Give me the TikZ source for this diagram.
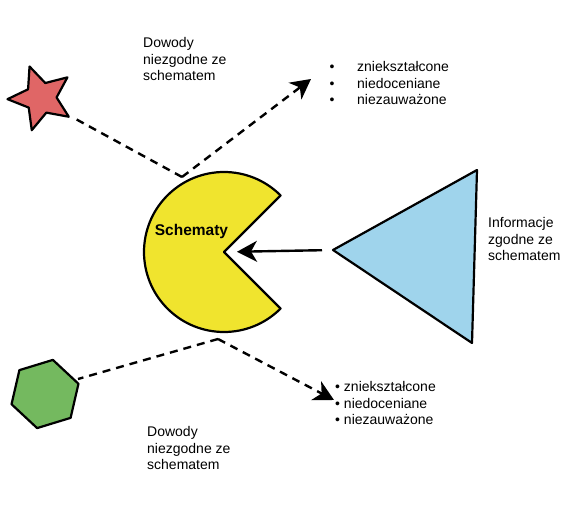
\documentclass[tikz,border=0pt]{standalone}
\usepackage{fontspec}
\setmainfont{Liberation Sans}
\usetikzlibrary{positioning,shapes,arrows.meta}
\tikzset{>=latex}
\usepackage{xcolor}
\definecolor{pacyellow}{HTML}{F0E42E}
\definecolor{starred}{HTML}{E06666}
\definecolor{hexgreen}{HTML}{74B95F}
\definecolor{triblue}{HTML}{9FD4EC}
\tikzstyle{shape_cust}=[draw=black, line width=2.2pt, line join=round, inner sep=0pt]
\tikzstyle{label_cust}=[align=left, inner sep=0pt, anchor=north west, font=\fontsize{14}{16.8}\selectfont]
\tikzstyle{connect dash}=[line width=2.4pt, dash pattern=on 8pt off 6pt]
\tikzstyle{connect arrow}=[-{Stealth[length=20pt,width=21pt,inset=6pt]},line width=2.4pt]

\begin{document}
\begin{tikzpicture}[x=1pt, y=-1pt]
\useasboundingbox (0,0) rectangle (583,518);

% schemat (pacman)
        \coordinate (pac) at (224,252);
        \fill[pacyellow] (pac) -- ++(45:80pt) arc[start angle=45, end angle=315, radius=80pt] -- cycle;
        \draw[shape_cust] (pac) -- ++(45:80pt) arc[start angle=45, end angle=315, radius=80pt] -- cycle;
        \node[anchor=base, font=\fontsize{15.5}{18}\selectfont\bfseries] (schem) at (191.5,236) {Schematy};
        \coordinate (pactop) at (182,177);
        \coordinate (pacbot) at (218,339);

% shapes
        \node[shape_cust, star, star points=5, star point ratio=2.15, minimum size=67pt, rotate=20, fill=starred] (star) at (41,98) {};
        \node[shape_cust, regular polygon, regular polygon sides=6, minimum size=70pt, rotate=17, fill=hexgreen] (hex) at (45,394) {};
        \coordinate (tritop) at (477,170);
        \coordinate (trileft) at (333,250);
        \coordinate (tribot) at (472,343);
        \draw[shape_cust, fill=triblue] (tritop) -- (trileft) -- (tribot) -- cycle;
        \coordinate (starend) at (72,117);
        \coordinate (hexend) at (78,379);

% labels
        \node[label_cust] (dowtop) at (143,37) {Dowody\\niezgodne ze\\schematem};
        \node[label_cust] (dowbot) at (147,426) {Dowody\\niezgodne ze\\schematem};
        \node[label_cust] (info) at (488,217) {Informacje\\zgodne ze\\schematem};
        \node[label_cust] (listtop) at (329.5,61) {\makebox[27.5pt][l]{\textbullet}zniekształcone\\\makebox[27.5pt][l]{\textbullet}niedoceniane\\\makebox[27.5pt][l]{\textbullet}niezauważone};
        \node[label_cust] (listbot) at (335,381) {\textbullet\ zniekształcone\\\textbullet\ niedoceniane\\\textbullet\ niezauważone};
        \coordinate (tiptop) at (311,79);
        \coordinate (tipbot) at (334,400);

        \begin{scope}[connect dash]
            \draw (pactop) -- (starend);
            \draw (pacbot) -- (hexend);
        \end{scope}

        \begin{scope}[connect arrow]
            \draw[dash pattern=on 8pt off 6pt] (pactop) -- (tiptop);
            \draw[dash pattern=on 8pt off 6pt] (pacbot) -- (tipbot);
            \draw[shorten <=11pt, shorten >=13pt] (trileft) -- (pac);
        \end{scope}

\end{tikzpicture}
\end{document}
